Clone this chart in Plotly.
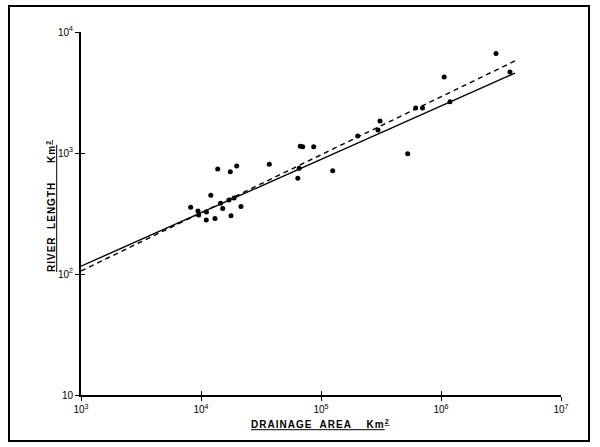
import plotly.graph_objects as go

# Observed points (drainage area km², river length km)
area = [8200, 9440, 9570, 11100, 11070, 12070, 13080, 13780, 14540, 15170,
        17110, 17540, 17780, 18840, 19840, 21540, 37070, 64100, 65800, 67200,
        70400, 86900, 125200, 202200, 298500, 310200, 527800, 615000, 701000,
        1063000, 1189000, 2873000, 3758000]
length = [356, 332, 307, 325, 279, 447, 288, 738, 384, 348,
          409, 700, 303, 425, 781, 362, 807, 618, 748, 1135,
          1125, 1127, 714, 1380, 1549, 1837, 986, 2356, 2356,
          4250, 2656, 6640, 4670]

# Fitted lines (end points)
solid_x = [1000, 4.14e6]
solid_y = [116, 4580]
dash_x = [1000, 4.385e6]
dash_y = [106, 5930]

x_tickvals = [1e3, 1e4, 1e5, 1e6, 1e7]
x_ticktext = ["10<sup>3</sup>", "10<sup>4</sup>", "10<sup>5</sup>", "10<sup>6</sup>", "10<sup>7</sup>"]
y_tickvals = [10, 100, 1000, 10000]
y_ticktext = ["10", "10<sup>2</sup>", "10<sup>3</sup>", "10<sup>4</sup>"]

FONT = "Liberation Sans, Arial, sans-serif"

fig = go.Figure()
fig.add_trace(go.Scatter(x=solid_x, y=solid_y, mode="lines",
                         line=dict(color="black", width=1.4), hoverinfo="skip"))
fig.add_trace(go.Scatter(x=dash_x, y=dash_y, mode="lines",
                         line=dict(color="black", width=1.4, dash="5px,4px"), hoverinfo="skip"))
fig.add_trace(go.Scatter(x=area, y=length, mode="markers",
                         marker=dict(color="black", size=5)))
# invisible trace to create the overlay axes (inner tick halves)
fig.add_trace(go.Scatter(x=[1e3], y=[10], xaxis="x2", yaxis="y2", mode="markers",
                         marker=dict(opacity=0), hoverinfo="skip"))

axis_common = dict(type="log", showgrid=False, zeroline=False, showline=True,
                   linecolor="black", linewidth=2, ticks="outside", ticklen=4,
                   tickwidth=1.3, tickcolor="black",
                   tickfont=dict(family=FONT, size=10, color="black"))

SP = '<span style="letter-spacing:1px">'

fig.update_layout(
    width=600, height=447, autosize=False,
    margin=dict(l=81, r=39, t=32, b=52),
    paper_bgcolor="white", plot_bgcolor="white",
    showlegend=False,
    xaxis=dict(range=[3, 7], tickvals=x_tickvals, ticktext=x_ticktext, **axis_common),
    yaxis=dict(range=[1, 4], tickvals=y_tickvals, ticktext=y_ticktext, **axis_common),
    xaxis2=dict(type="log", overlaying="x", matches="x", anchor="y2", range=[3, 7],
                tickvals=x_tickvals, ticks="inside", ticklen=4, tickwidth=1.3,
                tickcolor="black", showticklabels=False, showgrid=False,
                zeroline=False, showline=False),
    yaxis2=dict(type="log", overlaying="y", matches="y", anchor="x2", range=[1, 4],
                tickvals=y_tickvals, ticks="inside", ticklen=4, tickwidth=1.3,
                tickcolor="black", showticklabels=False, showgrid=False,
                zeroline=False, showline=False),
    annotations=[
        dict(text=f"<u><b>{SP}DRAINAGE  AREA    Km<sup>2</sup></span></b></u>",
             xref="paper", yref="paper", xanchor="center", yanchor="middle",
             x=(320 - 81) / 480, y=(395 - 424) / 363, showarrow=False,
             font=dict(family=FONT, size=10, color="black")),
        dict(text=f"<u><b>{SP}RIVER  LENGTH     Km<sup>2</sup></span></b></u>",
             xref="paper", yref="paper", xanchor="center", yanchor="middle",
             x=(51 - 81) / 480, y=(395 - 206) / 363, showarrow=False, textangle=-90,
             font=dict(family=FONT, size=10, color="black")),
    ],
    shapes=[
        dict(type="rect", xref="paper", yref="paper",
             x0=(9 - 81) / 480, x1=(589 - 81) / 480,
             y0=(395 - 441) / 363, y1=(395 - 6) / 363,
             line=dict(color="black", width=2), fillcolor="rgba(0,0,0,0)"),
    ],
)

fig.write_html("out.html", config={"displayModeBar": False},
               post_script="document.body.style.margin='0';document.body.style.overflow='hidden';")
